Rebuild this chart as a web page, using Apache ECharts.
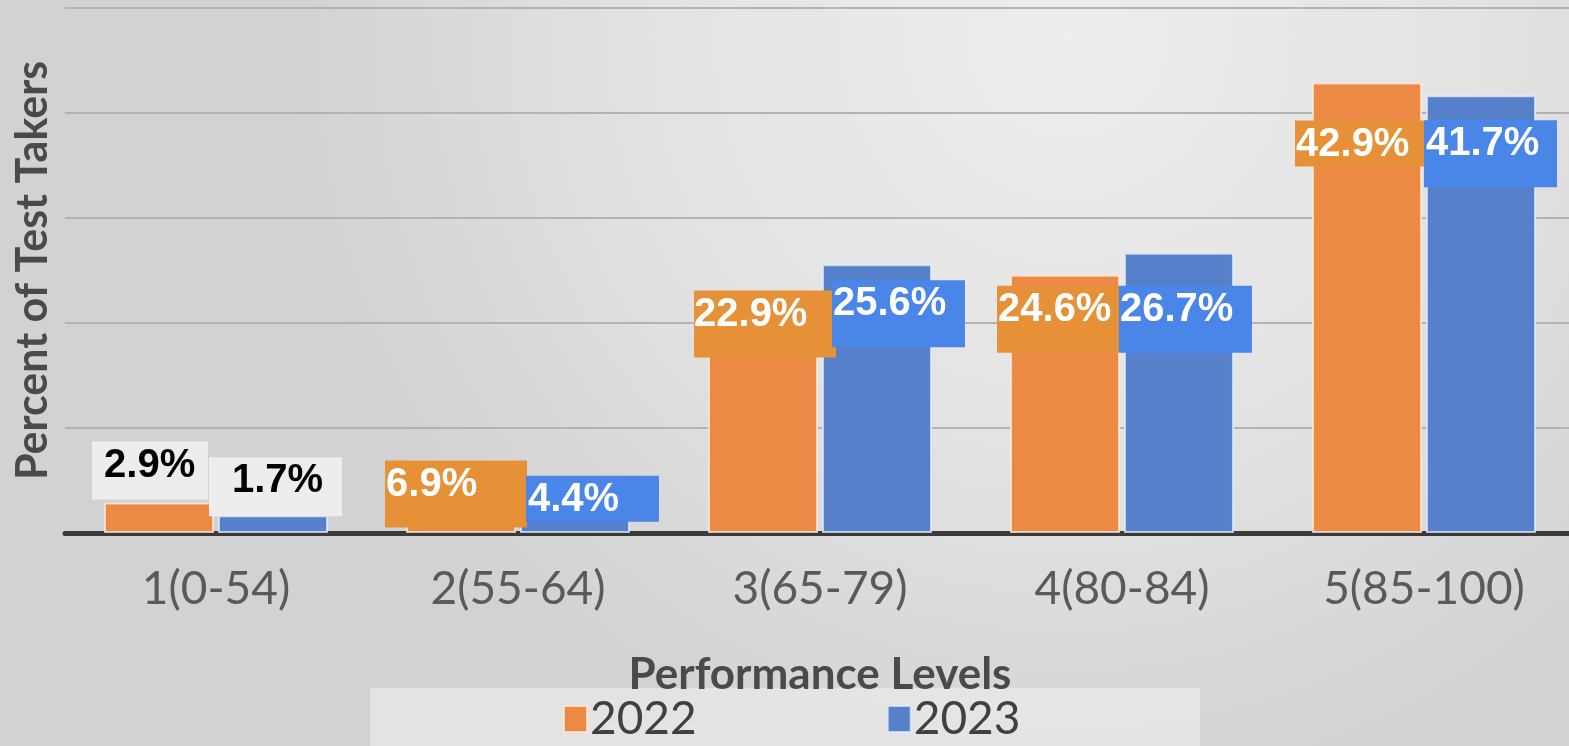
<!DOCTYPE html>
<html>
<head>
<meta charset="utf-8">
<title>Performance Levels 2022 vs 2023</title>
<script src="https://cdn.jsdelivr.net/npm/echarts@6/dist/echarts.min.js"></script>
<style>
  html, body { margin: 0; padding: 0; }
  #chart { width: 1569px; height: 746px; }
</style>
</head>
<body>
<div id="chart"></div>
<script>
// Share of test takers at each performance level, by year
const levels = ['1(0-54)', '2(55-64)', '3(65-79)', '4(80-84)', '5(85-100)'];
const pct2022 = [2.9, 6.9, 22.9, 24.6, 42.9];
const pct2023 = [1.7, 4.4, 25.6, 26.7, 41.7];
const years = ['2022', '2023'];

// Value-tag boxes: offset from the bar's top-left corner, box size, left padding, fill
const tags2022 = [
  { dx: -12, dy: -61, w: 116, h: 58, pl: 12, fill: '#EDEDED', ink: '#000000' },
  { dx: -21, dy: 0,   w: 142, h: 67, pl: 1,  fill: '#E69138', ink: '#FFFFFF' },
  { dx: -14, dy: -2,  w: 142, h: 67, pl: 0,  fill: '#E69138', ink: '#FFFFFF' },
  { dx: -13, dy: 11,  w: 122, h: 67, pl: 1,  fill: '#E69138', ink: '#FFFFFF' },
  { dx: -17, dy: 38,  w: 129, h: 46, pl: 1,  fill: '#E69138', ink: '#FFFFFF' }
];
const tags2023 = [
  { dx: -9,  dy: -58, w: 133, h: 59, pl: 23, fill: '#EDEDED', ink: '#000000' },
  { dx: 6,   dy: -11, w: 133, h: 46, pl: 2,  fill: '#4A86E8', ink: '#FFFFFF' },
  { dx: 10,  dy: 16,  w: 133, h: 67, pl: 1,  fill: '#4A86E8', ink: '#FFFFFF' },
  { dx: -5,  dy: 33,  w: 133, h: 67, pl: 1,  fill: '#4A86E8', ink: '#FFFFFF' },
  { dx: -2,  dy: 25,  w: 133, h: 67, pl: 2,  fill: '#4A86E8', ink: '#FFFFFF' }
];

function withTags(values, tags) {
  return values.map((v, i) => {
    const t = tags[i];
    return {
      value: v,
      label: {
        show: true,
        position: [t.dx, t.dy],
        align: 'left',
        verticalAlign: 'top',
        width: t.w - t.pl,
        height: t.h - 4,
        padding: [4, 0, 0, t.pl],
        backgroundColor: t.fill,
        color: t.ink,
        fontFamily: 'Liberation Sans, Arial, sans-serif',
        fontWeight: 'bold',
        fontSize: 40,
        lineHeight: 40,
        formatter: p => p.value.toFixed(1) + '%'
      }
    };
  });
}

const chart = echarts.init(document.getElementById('chart'), null, { renderer: 'canvas' });

chart.setOption({
  animation: false,
  backgroundColor: {
    type: 'radial', x: 0.68, y: 0.05, r: 1.05,
    colorStops: [
      { offset: 0, color: '#EEEEEE' },
      { offset: 0.55, color: '#E2E2E2' },
      { offset: 1, color: '#D2D2D2' }
    ]
  },
  graphic: [
    {
      type: 'rect', z: -1, silent: true,
      shape: { x: 370, y: 688, width: 830, height: 70 },
      style: { fill: 'rgba(240,240,240,0.55)' }
    }
  ],
  grid: {
    left: 65, top: 8, width: 1510, height: 525,
    containLabel: false,
    outerBoundsMode: 'none'
  },
  legend: {
    data: years,
    left: 558,
    top: 691,
    icon: 'rect',
    itemWidth: 23,
    itemHeight: 26,
    itemGap: 190,
    textStyle: {
      fontFamily: 'Lato, sans-serif',
      fontSize: 46,
      color: '#404040',
      padding: [0, 0, 0, -2]
    }
  },
  xAxis: {
    type: 'category',
    data: levels,
    name: 'Performance Levels',
    nameLocation: 'middle',
    nameGap: 120,
    nameTextStyle: {
      fontFamily: 'Lato, sans-serif',
      fontWeight: 'bold',
      fontSize: 44,
      color: '#4A4A4A'
    },
    axisTick: { show: false },
    axisLine: { lineStyle: { color: '#3A3A3A', width: 5 } },
    axisLabel: {
      fontFamily: 'Lato, sans-serif',
      fontSize: 46,
      color: '#5A5A5A',
      margin: 33
    }
  },
  yAxis: {
    type: 'value',
    min: 0,
    max: 50,
    interval: 10,
    name: 'Percent of Test Takers',
    nameLocation: 'middle',
    nameRotate: 90,
    nameGap: 10,
    nameTextStyle: {
      fontFamily: 'Lato, sans-serif',
      fontWeight: 'bold',
      fontSize: 43,
      color: '#4A4A4A'
    },
    axisLine: { show: false },
    axisTick: { show: false },
    axisLabel: { show: false },
    splitLine: { lineStyle: { color: '#B3B3B3', width: 2 } }
  },
  series: [
    {
      name: years[0],
      type: 'bar',
      barWidth: 110,
      barGap: '3.6%',
      itemStyle: { color: '#EC8A45', borderColor: 'rgba(255,236,220,0.75)', borderWidth: 2 },
      data: withTags(pct2022, tags2022)
    },
    {
      name: years[1],
      type: 'bar',
      barWidth: 110,
      itemStyle: { color: '#5680C9', borderColor: 'rgba(225,238,255,0.75)', borderWidth: 2 },
      data: withTags(pct2023, tags2023)
    }
  ]
});
</script>
</body>
</html>
